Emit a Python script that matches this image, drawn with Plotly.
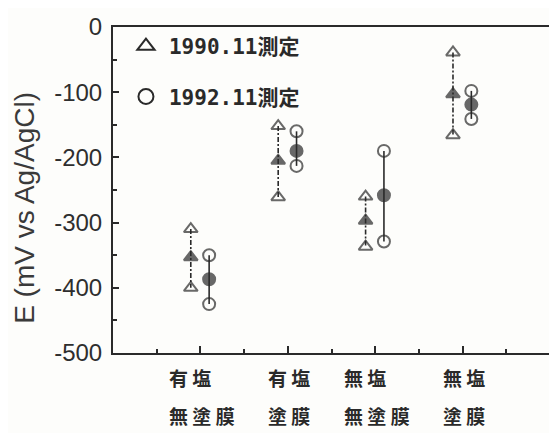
import plotly.graph_objects as go

# ---- data ----
labels_top = ["有塩", "有塩", "無塩", "無塩"]
labels_bottom = ["無塗膜", "塗膜", "無塗膜", "塗膜"]
positions = [1, 2, 3, 4]

series_names = ["1990.11測定", "1992.11測定"]
tri_top = [-310, -152, -260, -39]
tri_mean = [-353, -205, -297, -103]
tri_bot = [-400, -261, -337, -166]
cir_top = [-350, -160, -190, -98]
cir_mean = [-387, -190, -258, -119]
cir_bot = [-425, -213, -329, -141]

y_ticks = [0, -100, -200, -300, -400, -500]

INK = "#2a2a2a"
fig = go.Figure()

def add_series(offset, tops, means, bots, sym, dash):
    for i, p in enumerate(positions):
        fig.add_trace(go.Scatter(
            x=[p + offset] * 3,
            y=[tops[i], means[i], bots[i]],
            mode="lines+markers",
            line=dict(color=INK, width=1.6, dash=dash),
            marker=dict(symbol=[sym + "-open", sym, sym + "-open"], size=[12, 12, 12],
                        color=INK, line=dict(color=INK, width=2)),
            showlegend=False, hoverinfo="skip",
        ))

add_series(-0.11, tri_top, tri_mean, tri_bot, "triangle-up", "5px,2px,2px,2px")
add_series(0.10, cir_top, cir_mean, cir_bot, "circle", "solid")

# legend entries
fig.add_trace(go.Scatter(x=[None], y=[None], mode="markers", name=series_names[0],
                         marker=dict(symbol="triangle-up-open", size=15, color=INK,
                                     line=dict(color=INK, width=2)),
                         legend="legend"))
fig.add_trace(go.Scatter(x=[None], y=[None], mode="markers", name=series_names[1],
                         marker=dict(symbol="circle-open", size=15, color=INK,
                                     line=dict(color=INK, width=2)),
                         legend="legend2"))

leg_font = dict(family="DejaVu Sans Mono, Noto Sans CJK JP", size=21, color=INK, weight="bold")

# page body has an 8px default margin; compensate so the picture lines up
OFF = 8
W, H = 557 - OFF, 433 - OFF
L, R, T, B = 113 - OFF, 5, 17 - OFF, 80
ph = H - T - B
pw = W - L - R

def py(pix):  # pixel y in the screenshot -> paper y
    return (H - B - (pix - OFF)) / ph

def px(pix):  # pixel x in the screenshot -> paper x
    return (pix - OFF - L) / pw

fig.update_layout(
    width=W, height=H,
    margin=dict(l=L, r=R, t=T, b=B),
    paper_bgcolor="#fdfdfb", plot_bgcolor="#fdfdfb",
    legend=dict(x=px(123), y=py(37), xanchor="left", yanchor="middle", font=leg_font,
                bgcolor="rgba(0,0,0,0)", itemwidth=36),
    legend2=dict(x=px(123), y=py(89), xanchor="left", yanchor="middle", font=leg_font,
                 bgcolor="rgba(0,0,0,0)", itemwidth=36),
    xaxis=dict(range=[0, 5], showgrid=False, zeroline=False,
               showline=True, linecolor=INK, linewidth=2, mirror=True,
               tickvals=positions, ticktext=[""] * 4, ticks="inside", ticklen=7,
               tickcolor=INK, tickwidth=1.5,
               minor=dict(dtick=0.5, ticks="inside", ticklen=4, tickcolor=INK, tickwidth=1.5)),
    yaxis=dict(range=[-500, 0], showgrid=False, zeroline=False,
               showline=True, linecolor=INK, linewidth=2, mirror=True,
               tickvals=y_ticks, ticktext=[str(v) for v in y_ticks],
               ticks="inside", ticklen=6, tickcolor=INK, tickwidth=1.5,
               minor=dict(dtick=50, ticks="inside", ticklen=4, tickcolor=INK, tickwidth=1.5),
               tickfont=dict(family="Liberation Sans, Arial", size=24, color="#2e2e2e"),
               ticklabelstandoff=4, ticklabeloverflow="allow"),
)

# y-axis title
fig.add_annotation(text="E (mV vs Ag/AgCl)", textangle=-90, xref="paper", yref="paper",
                   x=px(24), y=py(203), xanchor="center", yanchor="middle",
                   showarrow=False,
                   font=dict(family="Liberation Sans, Arial", size=28, color="#3a3a3a"))

# category labels (two lines, left aligned block centred on category)
cat_font = dict(family="Noto Sans CJK JP", size=19, color=INK, weight="bold")
CH, SP = 19, 5
for p, a, b in zip(positions, labels_top, labels_bottom):
    n = max(len(a), len(b))
    block = n * CH + (n - 1) * SP
    for txt, ypix in ((a, 378), (b, 417)):
        fig.add_annotation(text=" ".join(txt), xref="x", yref="paper", x=p, y=py(ypix),
                           xanchor="left", yanchor="middle", xshift=-block / 2,
                           showarrow=False, font=cat_font)

fig.write_html("out.html")
